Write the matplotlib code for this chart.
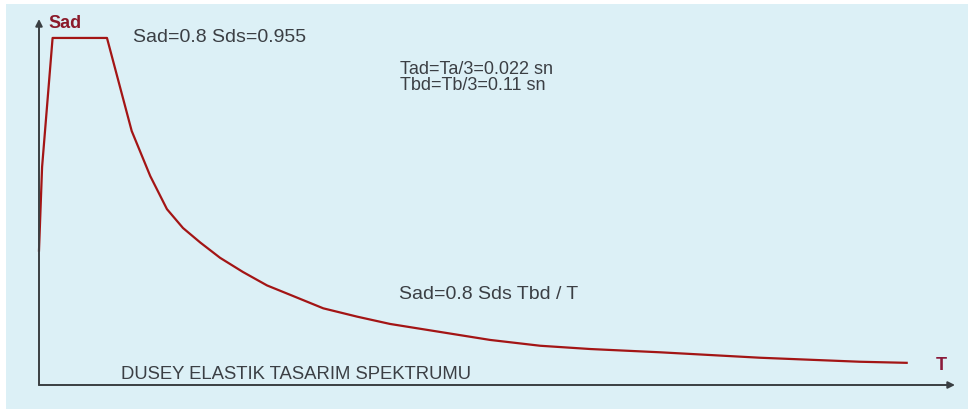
import matplotlib.pyplot as plt
from matplotlib.patches import Rectangle

# values (T in s, Sad in g)
T = [0.0, 0.005, 0.022, 0.11, 0.150, 0.180, 0.207, 0.233, 0.261, 0.293,
     0.330, 0.369, 0.411, 0.460, 0.515, 0.568, 0.649, 0.730, 0.811, 0.892,
     1.005, 1.167, 1.328, 1.404]
Sad = [0.37, 0.60, 0.955, 0.955, 0.699, 0.575, 0.484, 0.432, 0.392, 0.350,
       0.311, 0.274, 0.245, 0.211, 0.188, 0.168, 0.146, 0.124, 0.108, 0.099,
       0.090, 0.075, 0.064, 0.061]

title = "DUSEY ELASTIK TASARIM SPEKTRUMU"
notes = ["Sad=0.8 Sds=0.955", "Tad=Ta/3=0.022 sn", "Tbd=Tb/3=0.11 sn",
         "Sad=0.8 Sds Tbd / T"]

W, H = 968, 410
plt.rcParams['font.family'] = ['Liberation Sans', 'DejaVu Sans']
fig = plt.figure(figsize=(W / 100, H / 100), dpi=100, facecolor="white")

# light blue panel
fig.patches.append(Rectangle((6 / W, -0.01), 1, 1.01 - 5 / H,
                             transform=fig.transFigure, facecolor="#dcf0f6",
                             edgecolor="none", zorder=-5))

x0, y0, x1, y1 = 39, 386, 955, 20
ax = fig.add_axes([x0 / W, (H - y0) / H, (x1 - x0) / W, (y0 - y1) / H])
ax.set_facecolor("none")
ax.set_xlim(0, (x1 - x0) / 618)
ax.set_ylim(0, (y0 - y1) / 363.4)
for s in ax.spines.values():
    s.set_visible(False)
ax.set_xticks([])
ax.set_yticks([])

ax.plot(T, Sad, color="#a31515", lw=1.6, zorder=3, clip_on=False)

# axes with arrows
axc = "#3a3f42"
for end in [(1, 0), (0, 1)]:
    ax.annotate("", xy=end, xytext=(0, 0), xycoords="axes fraction",
                arrowprops=dict(arrowstyle="-|>", color=axc, lw=1.4,
                                mutation_scale=10, shrinkA=0, shrinkB=0))

def px(x, y):
    return x / W, 1 - y / H

tc = "#3b3f44"
fig.text(*px(48, 23), "Sad", color="#8b1a2a", fontsize=13, fontweight="bold",
         va="center", ha="left")
fig.text(*px(936, 366), "T", color="#8b1a3a", fontsize=13, fontweight="bold",
         va="center", ha="left")
fig.text(*px(133, 38), notes[0], color=tc, fontsize=14, va="center", ha="left")
fig.text(*px(400, 69), notes[1], color=tc, fontsize=13, va="center", ha="left")
fig.text(*px(400, 86), notes[2], color=tc, fontsize=13, va="center", ha="left")
fig.text(*px(399, 295), notes[3], color=tc, fontsize=14, va="center", ha="left")
fig.text(*px(121, 375), title, color=tc, fontsize=13.3, va="center", ha="left")

fig.savefig("out.png", dpi=100, facecolor="white")
